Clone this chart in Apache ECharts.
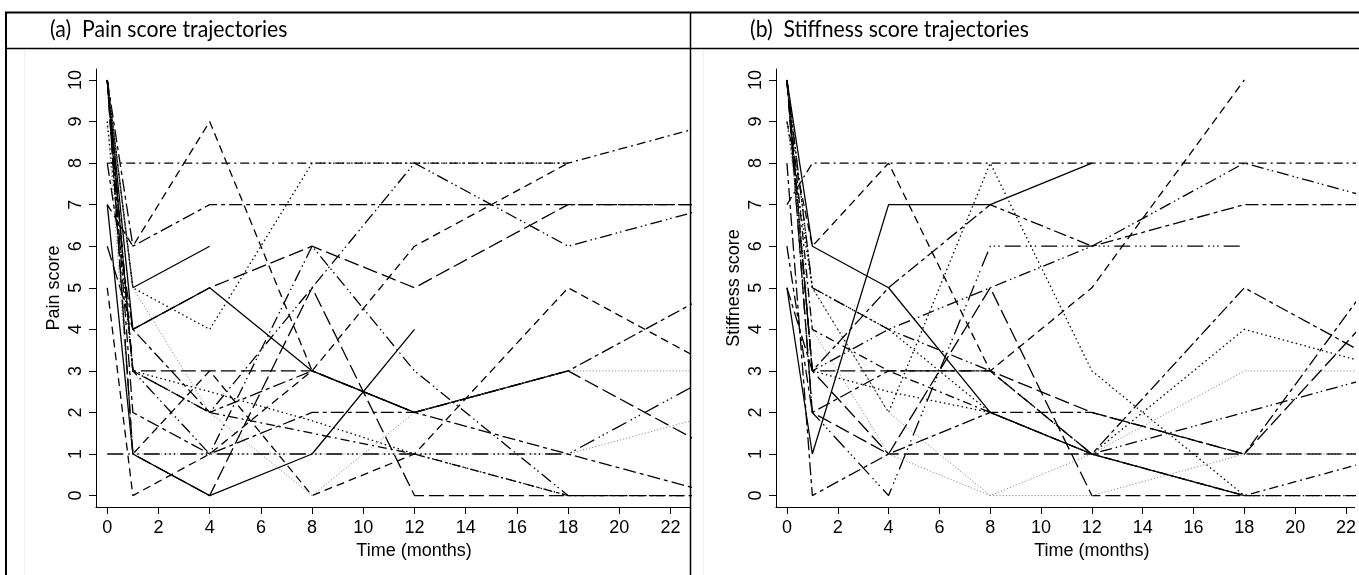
<!DOCTYPE html>
<html><head><meta charset="utf-8">
<script src="https://cdn.jsdelivr.net/npm/echarts@6/dist/echarts.min.js"></script>
<style>html,body{margin:0;padding:0;background:#fff}#c{width:1359px;height:575px}</style>
</head><body><div id="c"></div>
<script>
// ---- data ----
const times = [0, 1, 4, 8, 12, 18, 24];
const xTicks = [0, 2, 4, 6, 8, 10, 12, 14, 16, 18, 20, 22];
const yTicks = [0, 1, 2, 3, 4, 5, 6, 7, 8, 9, 10];
const titleA = '(a)  Pain score trajectories';
const titleB = '(b)  Stiffness score trajectories';
const xName = 'Time (months)';
const yNameA = 'Pain score';
const yNameB = 'Stiffness score';

// Pain score trajectories (values at times above; null = no observation)
const p01 = [8, 8, 8, 8, 8, 8, 9];
const p02 = [7, 6, 9, 3, null, null, null];
const p03 = [10, 6, 7, 7, 7, 7, 7];
const p04 = [10, 5, 6, null, null, null, null];
const p05 = [10, 5, 4, 8, 8, 8, null];
const p06 = [6, 4, 5, 6, 5, 7, 7];
const p07 = [10, 4, 5, 3, 2, 3, null];
const p08 = [10, 3, 2, 5, 8, 6, 7];
const p09 = [10, 3, 3, 3, 2, 3, 1];
const p10 = [10, 1, 3, 0, 1, 5, 3];
const p11 = [10, 3, 1, 6, 3, 0, null];
const p12 = [7, 1, 0, 1, 4, null, null];
const p13 = [5, 0, 1, 3, 6, 8, null];
const p14 = [10, 5, 2, 0, 2, 3, 3];
const p15 = [9, 1, 1, 1, 1, 1, 2];
const p16 = [1, 1, 1, 1, 1, 1, 3];
const p17 = [9, 3, 2.5, 1.8, 1, 0, null];
const p18 = [10, 2, 1, 2, 2, 1, 0];
const p19 = [10, 1, 0, 5, 0, 0, 0];
const p20 = [10, 3, 2, 1.5, 1, 0, 0];
const p21 = [8, 4, 2, 3, 2, 3, 5];

// Stiffness score trajectories
const s01 = [7, 8, 8, 8, 8, 8, 8];
const s02 = [9, 6, 8, 3, 5, 10, null];
const s03 = [10, 6, 5, 2, 1, 0, null];
const s04 = [5, 1, 7, 7, 8, null, null];
const s05 = [5, 3, 5, 7, 6, 7, 7];
const s06 = [10, 2, 0, 6, 6, 6, null];
const s07 = [9, 5, 2, 8, 3, 0, null];
const s08 = [10, 3, 4, 5, 6, 8, 7];
const s09 = [10, 2, 1, 5, 0, 0, 0];
const s10 = [8, 0, 1, 2, 2, 1, 6];
const s11 = [10, 3, 1, 1, 1, 1, 5];
const s12 = [10, 3, 3, 3, 2, 1, 1];
const s13 = [10, 3, 2.5, 2, 1, 0, 0];
const s14 = [10, 5, 2, 0, 0, 1, 1];
const s15 = [9, 4, 1, 0, 1, 3, 3];
const s16 = [10, 5, 4, 2, 1, 4, 3];
const s17 = [6, 2, 3, 3, 1, 5, 3];
const s18 = [10, 5, 4, 3, 1, 2, 3];
const s19 = [10, 4, 3, 2, 1, 0, 1];

const painLines = [p01,p02,p03,p04,p05,p06,p07,p08,p09,p10,p11,p12,p13,p14,p15,p16,p17,p18,p19,p20,p21];
const stiffLines = [s01,s02,s03,s04,s05,s06,s07,s08,s09,s10,s11,s12,s13,s14,s15,s16,s17,s18,s19];

// ---- styles (line type for each trajectory) ----
const painTypes = ['dotdash','dashed','twodash','solid','dotted','longdash','solid','ddd','longdash','dashed',
                   'ddd','solid','dashed','grey','grey','ldd','dotted','twodash','longdash','dotdash','twodash'];
const stiffTypes = ['dotdash','dashed','solid','solid','twodash','ldd','dotted','ddd','longdash','twodash',
                    'longdash','longdash','dotted','grey','grey','dotted','twodash','ddd','dotdash'];
const dash = {
  solid: 'solid',
  dashed: [8, 5],
  dotted: [1.5, 3],
  dotdash: [9, 4, 2, 4],
  longdash: [15, 5],
  twodash: [13, 4, 4, 4],
  ddd: [12, 4, 1.5, 3, 1.5, 4],
  ldd: [16, 5, 1.5, 3, 1.5, 3, 1.5, 5],
  grey: [1.2, 2]
};

function mkSeries(lines, types, idx) {
  return lines.map((arr, i) => {
    const t = types[i];
    return {
      type: 'line', xAxisIndex: idx, yAxisIndex: idx,
      data: times.map((tm, k) => [tm, arr[k]]).filter(d => d[1] !== null),
      showSymbol: false, symbol: 'none', clip: true, silent: true,
      lineStyle: { color: t === 'grey' ? '#8c8c8c' : '#000', width: t === 'grey' ? 1 : 1.3, type: dash[t] },
      z: 3
    };
  });
}

const fontAx = 'Liberation Sans';
const fs = 18;
function xAx(idx, min, max, pad) {
  return {
    type: 'value', gridIndex: idx, min: min, max: max,
    axisLine: { show: true, onZero: false, lineStyle: { color: '#000', width: 1 } },
    axisTick: { show: true, length: 7, customValues: xTicks, lineStyle: { color: '#000', width: 1 } },
    axisLabel: { customValues: xTicks, color: '#000', fontSize: fs, fontFamily: fontAx, margin: 12 },
    splitLine: { show: false },
    name: xName, nameLocation: 'middle', nameGap: 30,
    nameTextStyle: { color: '#000', fontSize: fs, fontFamily: fontAx, padding: [0, 0, 0, pad] }
  };
}
function yAx(idx, name) {
  return {
    type: 'value', gridIndex: idx, min: -0.275, max: 10.264,
    axisLine: { show: true, onZero: false, lineStyle: { color: '#000', width: 1 } },
    axisTick: { show: true, length: 7, customValues: yTicks, lineStyle: { color: '#000', width: 1 } },
    axisLabel: { customValues: yTicks, color: '#000', fontSize: fs, fontFamily: fontAx, margin: 11, rotate: 90 },
    splitLine: { show: false },
    name: name, nameLocation: 'middle', nameGap: 33,
    nameTextStyle: { color: '#000', fontSize: fs, fontFamily: fontAx }
  };
}

const titleFont = "24px Lato";
const chart = echarts.init(document.getElementById('c'), null, { renderer: 'canvas' });
chart.setOption({
  animation: false,
  backgroundColor: '#fff',
  grid: [
    { left: 96, top: 69, width: 594, height: 438 },
    { left: 776, top: 69, width: 583, height: 438 }
  ],
  xAxis: [xAx(0, -0.44, 22.76, 42), xAx(1, -0.43, 22.34, 53)],
  yAxis: [yAx(0, yNameA), yAx(1, yNameB)],
  series: mkSeries(painLines, painTypes, 0).concat(mkSeries(stiffLines, stiffTypes, 1)),
  graphic: [
    { type: 'line', shape: { x1: 5, y1: 12.5, x2: 1359, y2: 12.5 }, style: { stroke: '#000', lineWidth: 2 }, z: 10 },
    { type: 'line', shape: { x1: 6, y1: 12, x2: 6, y2: 575 }, style: { stroke: '#000', lineWidth: 2 }, z: 10 },
    { type: 'line', shape: { x1: 690.5, y1: 12, x2: 690.5, y2: 575 }, style: { stroke: '#000', lineWidth: 1.5 }, z: 10 },
    { type: 'line', shape: { x1: 5, y1: 48.5, x2: 1359, y2: 48.5 }, style: { stroke: '#000', lineWidth: 1.5 }, z: 10 },
    { type: 'line', shape: { x1: 24.5, y1: 50, x2: 24.5, y2: 575 }, style: { stroke: '#f2f2f2', lineWidth: 1 }, z: 1 },
    { type: 'line', shape: { x1: 703.5, y1: 50, x2: 703.5, y2: 575 }, style: { stroke: '#f2f2f2', lineWidth: 1 }, z: 1 },
    { type: 'text', x: 50, y: 17, scaleX: 0.885, style: { text: titleA, font: titleFont, fill: '#000' }, z: 10 },
    { type: 'text', x: 750, y: 17, scaleX: 0.885, style: { text: titleB, font: titleFont, fill: '#000' }, z: 10 }
  ]
});
</script>
</body></html>
